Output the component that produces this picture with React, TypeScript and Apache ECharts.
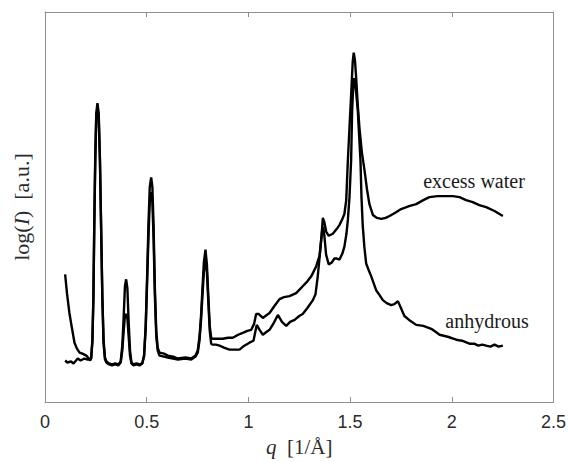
import React, { useEffect, useRef } from "react";
import * as echarts from "echarts";

// q [1/Å]
const excessQ = [
  0.099, 0.108, 0.12, 0.133, 0.145, 0.157, 0.17, 0.184, 0.203, 0.215, 0.222, 0.227, 0.233, 0.238, 0.242, 0.247,
  0.252, 0.258, 0.264, 0.27, 0.276, 0.282, 0.288, 0.295, 0.302, 0.315, 0.33, 0.345, 0.36, 0.372, 0.38, 0.387,
  0.393, 0.399, 0.405, 0.411, 0.418, 0.425, 0.435, 0.45, 0.465, 0.478, 0.487, 0.495, 0.502, 0.509, 0.515, 0.522,
  0.528, 0.534, 0.54, 0.547, 0.554, 0.563, 0.585, 0.604, 0.63, 0.653, 0.69, 0.719, 0.74, 0.751, 0.76, 0.767,
  0.774, 0.781, 0.789, 0.796, 0.803, 0.81, 0.817, 0.825, 0.85, 0.874, 0.9, 0.923, 0.95, 0.972, 0.995, 1.014,
  1.028, 1.038, 1.05, 1.071, 1.09, 1.104, 1.128, 1.153, 1.175, 1.202, 1.235, 1.267, 1.29, 1.309, 1.333, 1.35,
  1.36, 1.366, 1.373, 1.383, 1.395, 1.415, 1.435, 1.448, 1.462, 1.472, 1.481, 1.489, 1.497, 1.505, 1.513, 1.518,
  1.524, 1.53, 1.538, 1.546, 1.558, 1.571, 1.583, 1.595, 1.612, 1.632, 1.653, 1.675, 1.694, 1.72, 1.751, 1.79,
  1.825, 1.86, 1.89, 1.93, 1.972, 2.005, 2.038, 2.07, 2.103, 2.135, 2.169, 2.21, 2.251,
];
// log(I) [a.u.]
const excessI = [
  129, 110, 90, 74, 60, 54, 50, 49, 47, 44, 42, 44, 62, 107, 177, 247,
  292, 302, 292, 247, 177, 107, 62, 45, 41, 39, 38, 39, 38, 41, 57, 87,
  117, 124, 115, 82, 52, 40, 38, 39, 38, 39, 47, 77, 127, 182, 217, 227,
  217, 177, 117, 72, 55, 50, 49, 47, 46, 44, 45, 44, 47, 52, 67, 87,
  114, 141, 154, 139, 107, 77, 65, 64, 64, 64, 65, 65, 68, 70, 72, 73,
  79, 89, 89, 85, 88, 90, 97, 104, 106, 107, 110, 117, 122, 127, 137, 148,
  169, 186, 182, 172, 168, 170, 175, 179, 185, 190, 204, 244, 277, 310, 344, 353,
  345, 327, 299, 277, 252, 234, 215, 200, 189, 186, 185, 186, 188, 191, 195, 198,
  200, 204, 207, 208, 208, 208, 207, 204, 202, 199, 197, 193, 188,
];

const anhydQ = [
  0.099, 0.11, 0.128, 0.14, 0.161, 0.175, 0.194, 0.21, 0.222, 0.227, 0.233, 0.238, 0.242, 0.247, 0.252, 0.258,
  0.264, 0.27, 0.276, 0.282, 0.288, 0.295, 0.302, 0.315, 0.33, 0.345, 0.36, 0.372, 0.38, 0.387, 0.393, 0.399,
  0.405, 0.411, 0.418, 0.425, 0.435, 0.45, 0.465, 0.478, 0.487, 0.495, 0.502, 0.509, 0.515, 0.522, 0.528, 0.534,
  0.54, 0.547, 0.554, 0.563, 0.585, 0.604, 0.63, 0.653, 0.69, 0.719, 0.74, 0.751, 0.76, 0.767, 0.774, 0.781,
  0.789, 0.796, 0.803, 0.81, 0.817, 0.825, 0.84, 0.858, 0.88, 0.907, 0.93, 0.956, 0.98, 1.005, 1.025, 1.041,
  1.055, 1.071, 1.09, 1.104, 1.125, 1.145, 1.165, 1.186, 1.205, 1.227, 1.25, 1.267, 1.29, 1.317, 1.33, 1.341,
  1.353, 1.362, 1.368, 1.374, 1.382, 1.395, 1.41, 1.423, 1.435, 1.448, 1.462, 1.472, 1.482, 1.489, 1.497, 1.505,
  1.51, 1.517, 1.523, 1.53, 1.538, 1.545, 1.551, 1.556, 1.562, 1.57, 1.579, 1.59, 1.604, 1.628, 1.645, 1.661,
  1.68, 1.702, 1.718, 1.735, 1.75, 1.767, 1.79, 1.825, 1.86, 1.899, 1.92, 1.94, 1.98, 2.022, 2.05, 2.087,
  2.11, 2.13, 2.15, 2.169, 2.19, 2.21, 2.23, 2.251,
];
const anhydI = [
  42, 40, 41, 39, 44, 42, 44, 43, 44, 45, 62, 105, 172, 242, 287, 297,
  287, 244, 174, 104, 59, 43, 40, 38, 37, 38, 37, 40, 52, 72, 87, 89,
  85, 67, 47, 39, 37, 38, 37, 39, 46, 74, 120, 169, 202, 212, 202, 164,
  109, 67, 52, 47, 46, 45, 44, 43, 44, 43, 46, 50, 63, 82, 107, 131,
  145, 131, 101, 72, 59, 58, 58, 57, 55, 53, 53, 53, 57, 60, 62, 78,
  73, 68, 71, 73, 80, 88, 81, 77, 81, 83, 87, 89, 95, 103, 109, 127,
  153, 172, 177, 167, 149, 139, 141, 145, 145, 144, 150, 157, 170, 184, 207, 244,
  294, 327, 325, 312, 294, 267, 244, 207, 179, 157, 140, 134, 127, 113, 108, 103,
  100, 98, 99, 102, 95, 87, 83, 78, 77, 74, 71, 68, 66, 63, 62, 59,
  59, 57, 58, 57, 56, 58, 56, 57,
];

const xTicks = [0, 0.5, 1, 1.5, 2, 2.5];
const seriesNames = ["excess water", "anhydrous"];

const zip = (q: number[], v: number[]) => q.map((x, i) => [x, v[i]]);

const frame = "#8f8f8f";
const serif = "'Liberation Serif', 'Times New Roman', serif";

export default function App() {
  const ref = useRef<HTMLDivElement>(null);
  useEffect(() => {
    if (!ref.current) return;
    const chart = echarts.init(ref.current, null, { renderer: "svg" });
    const axisLineStyle = { show: true, onZero: false, lineStyle: { color: frame, width: 1 } };
    chart.setOption({
      animation: false,
      backgroundColor: "#ffffff",
      grid: { left: 45, right: 15, top: 12, bottom: 56 },
      xAxis: [
        {
          type: "value",
          min: xTicks[0],
          max: xTicks[xTicks.length - 1],
          interval: 0.5,
          position: "bottom",
          axisLine: axisLineStyle,
          axisTick: { show: true, inside: true, length: 5, lineStyle: { color: frame } },
          splitLine: { show: false },
          axisLabel: {
            margin: 11,
            color: "#2b2b2b",
            fontSize: 18,
            fontFamily: "'Liberation Sans', Arial, sans-serif",
            formatter: (v: number) => String(v),
          },
          name: "{i|q}\u2002[1/Å]",
          nameLocation: "middle",
          nameGap: 32,
          nameTextStyle: {
            color: "#2b2b2b",
            fontSize: 21,
            fontFamily: serif,
            rich: { i: { fontStyle: "italic", fontSize: 21, fontFamily: serif, color: "#2b2b2b" } },
          },
        },
        {
          type: "value",
          min: xTicks[0],
          max: xTicks[xTicks.length - 1],
          interval: 0.5,
          position: "top",
          axisLine: axisLineStyle,
          axisTick: { show: true, inside: true, length: 5, lineStyle: { color: frame } },
          splitLine: { show: false },
          axisLabel: { show: false },
        },
      ],
      yAxis: [
        {
          type: "value",
          min: 0,
          max: 394,
          position: "left",
          axisLine: axisLineStyle,
          axisTick: { show: false },
          splitLine: { show: false },
          axisLabel: { show: false },
          name: "log({i|I})\u2002[a.u.]",
          nameLocation: "middle",
          nameGap: 13,
          nameTextStyle: {
            color: "#2b2b2b",
            fontSize: 22,
            fontFamily: serif,
            rich: { i: { fontStyle: "italic", fontSize: 22, fontFamily: serif, color: "#2b2b2b" } },
          },
        },
        {
          type: "value",
          min: 0,
          max: 394,
          position: "right",
          axisLine: axisLineStyle,
          axisTick: { show: false },
          splitLine: { show: false },
          axisLabel: { show: false },
        },
      ],
      series: [
        {
          name: seriesNames[0],
          type: "line",
          xAxisIndex: 0,
          yAxisIndex: 0,
          showSymbol: false,
          data: zip(excessQ, excessI),
          lineStyle: { color: "#000", width: 2.4 },
        },
        {
          name: seriesNames[1],
          type: "line",
          xAxisIndex: 0,
          yAxisIndex: 0,
          showSymbol: false,
          data: zip(anhydQ, anhydI),
          lineStyle: { color: "#000", width: 2.4 },
        },
      ],
      graphic: [
        {
          type: "text",
          x: 474,
          y: 181,
          style: { text: seriesNames[0], font: `20px ${serif}`, fill: "#1a1a1a", align: "center", verticalAlign: "middle" },
        },
        {
          type: "text",
          x: 487,
          y: 321,
          style: { text: seriesNames[1], font: `20px ${serif}`, fill: "#1a1a1a", align: "center", verticalAlign: "middle" },
        },
      ],
    });
    return () => chart.dispose();
  }, []);
  return <div ref={ref} style={{ position: "absolute", left: 0, top: 0, width: 569, height: 462 }} />;
}
